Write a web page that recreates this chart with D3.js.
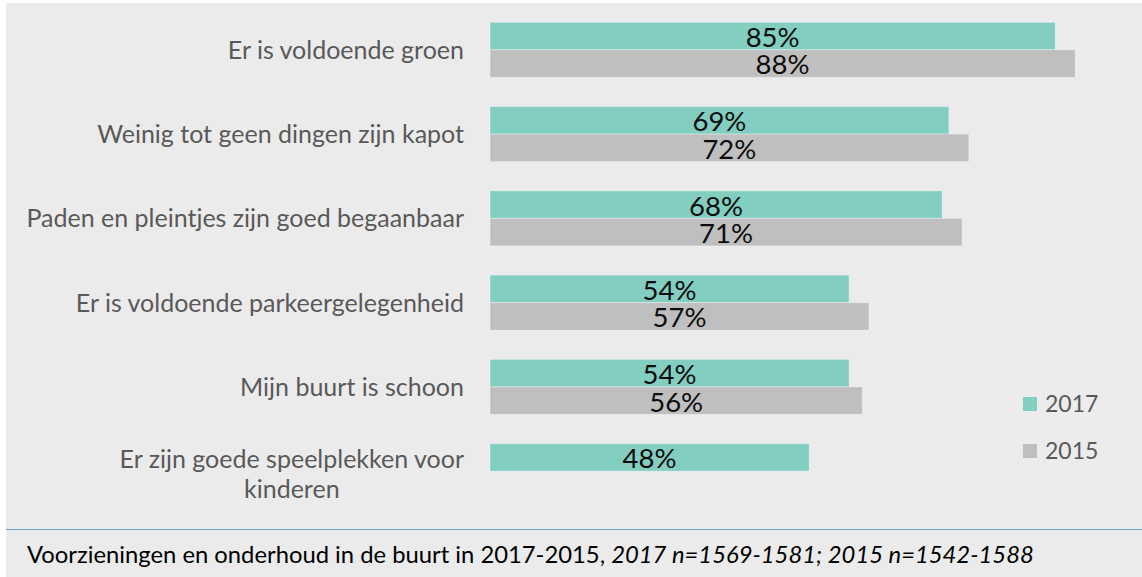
<!DOCTYPE html>
<html>
<head>
<meta charset="utf-8">
<script src="https://cdn.jsdelivr.net/npm/d3@7"></script>
<style>
  body { margin: 0; background: #ffffff; }
  svg { display: block; font-family: Lato, "Open Sans", sans-serif; }
</style>
</head>
<body>
<svg id="chart"></svg>
<script>
var categories = [
    "Er is voldoende groen",
    "Weinig tot geen dingen zijn kapot",
    "Paden en pleintjes zijn goed begaanbaar",
    "Er is voldoende parkeergelegenheid",
    "Mijn buurt is schoon",
    "Er zijn goede speelplekken voor\nkinderen"
];
var years = ["2017", "2015"];
var values2017 = [85, 69, 68, 54, 54, 48];
var values2015 = [88, 72, 71, 57, 56, null];
var caption = "Voorzieningen en onderhoud in de buurt in 2017-2015, ";
var captionItalic = "2017 n=1569-1581; 2015 n=1542-1588";

function barChart() {
    var svgWidth = 1142, svgHeight = 577;
    var colors = { "2017": "#82cec1", "2015": "#bfbfbf" };

    var svg = d3.select("#chart")
            .attr("width", svgWidth)
            .attr("height", svgHeight);

    // chart area background, a thin white margin is left at top/left
    svg.append("rect")
            .attr("x", 6).attr("y", 3)
            .attr("width", svgWidth - 6).attr("height", svgHeight - 3)
            .attr("fill", "#ebebeb");

    var x = d3.scaleLinear().domain([0, 100]).range([490, 1155]);
    var y = d3.scaleBand().domain(categories).range([8, 513])
            .paddingInner(0.347).paddingOuter(0.17);
    var ySub = d3.scaleBand().domain(years).range([0, y.bandwidth()]);

    var rows = categories.map(function (c, i) {
        return { cat: c, bars: [
            { year: "2017", value: values2017[i] },
            { year: "2015", value: values2015[i] }
        ].filter(function (b) { return b.value != null; }) };
    });

    // legend box (barely lighter)
    svg.append("rect")
            .attr("x", 998).attr("y", 370)
            .attr("width", 144).attr("height", 115)
            .attr("fill", "#ececec");

    var groups = svg.selectAll("g.row")
            .data(rows)
            .enter()
            .append("g")
            .attr("class", "row")
            .attr("transform", function (d) { return "translate(0," + y(d.cat) + ")"; });

    groups.selectAll("rect")
            .data(function (d) { return d.bars; })
            .enter()
            .append("rect")
            .attr("x", x(0))
            .attr("y", function (d) { return ySub(d.year); })
            .attr("width", function (d) { return x(d.value) - x(0); })
            .attr("height", ySub.bandwidth())
            .attr("fill", function (d) { return colors[d.year]; })
            .attr("stroke", "rgba(255,255,255,0.35)")
            .attr("stroke-width", 1);

    groups.selectAll("text.val")
            .data(function (d) { return d.bars; })
            .enter()
            .append("text")
            .attr("class", "val")
            .text(function (d) { return d.value + "%"; })
            .attr("x", function (d) { return (x(0) + x(d.value)) / 2; })
            .attr("y", function (d) { return ySub(d.year) + ySub.bandwidth() / 2 + 1; })
            .attr("dy", "0.36em")
            .attr("text-anchor", "middle")
            .attr("font-size", 27.5)
            .attr("fill", "#0d0d0d");

    // category labels, multi-line ones are centred inside a right-aligned block
    var right = 464;
    groups.each(function (d) {
        var g = d3.select(this);
        var lines = d.cat.split("\n");
        var lineH = 30;
        var cy = y.bandwidth() / 2 + (lines.length > 1 ? 3 : 0);
        var t = g.append("text")
                .attr("font-size", 25)
                .attr("fill", "#595959");
        lines.forEach(function (line, i) {
            t.append("tspan")
                .text(line)
                .attr("x", 0)
                .attr("y", cy + (i - (lines.length - 1) / 2) * lineH)
                .attr("dy", "0.36em");
        });
        if (lines.length > 1) {
            var w = t.node().getBBox().width;
            t.attr("text-anchor", "middle");
            t.selectAll("tspan").attr("x", right - w / 2);
        } else {
            t.attr("text-anchor", "end");
            t.selectAll("tspan").attr("x", right);
        }
    });

    // legend
    var legend = svg.selectAll("g.legend")
            .data(years)
            .enter()
            .append("g")
            .attr("class", "legend")
            .attr("transform", function (d, i) { return "translate(1023," + (397 + i * 47) + ")"; });
    legend.append("rect")
            .attr("width", 14).attr("height", 14)
            .attr("fill", function (d) { return colors[d]; });
    legend.append("text")
            .text(function (d) { return d; })
            .attr("x", 22).attr("y", 7)
            .attr("dy", "0.36em")
            .attr("font-size", 23)
            .attr("fill", "#595959");

    // separator line and caption
    svg.append("line")
            .attr("x1", 6).attr("x2", svgWidth)
            .attr("y1", 529.5).attr("y2", 529.5)
            .attr("stroke", "#6a9fd4")
            .attr("stroke-width", 1.2);

    var cap = svg.append("text")
            .attr("x", 27).attr("y", 563)
            .attr("font-size", 23.8)
            .attr("fill", "#000");
    cap.append("tspan").text(caption);
    cap.append("tspan").text(captionItalic).attr("font-style", "italic");
}

barChart();
</script>
</body>
</html>
